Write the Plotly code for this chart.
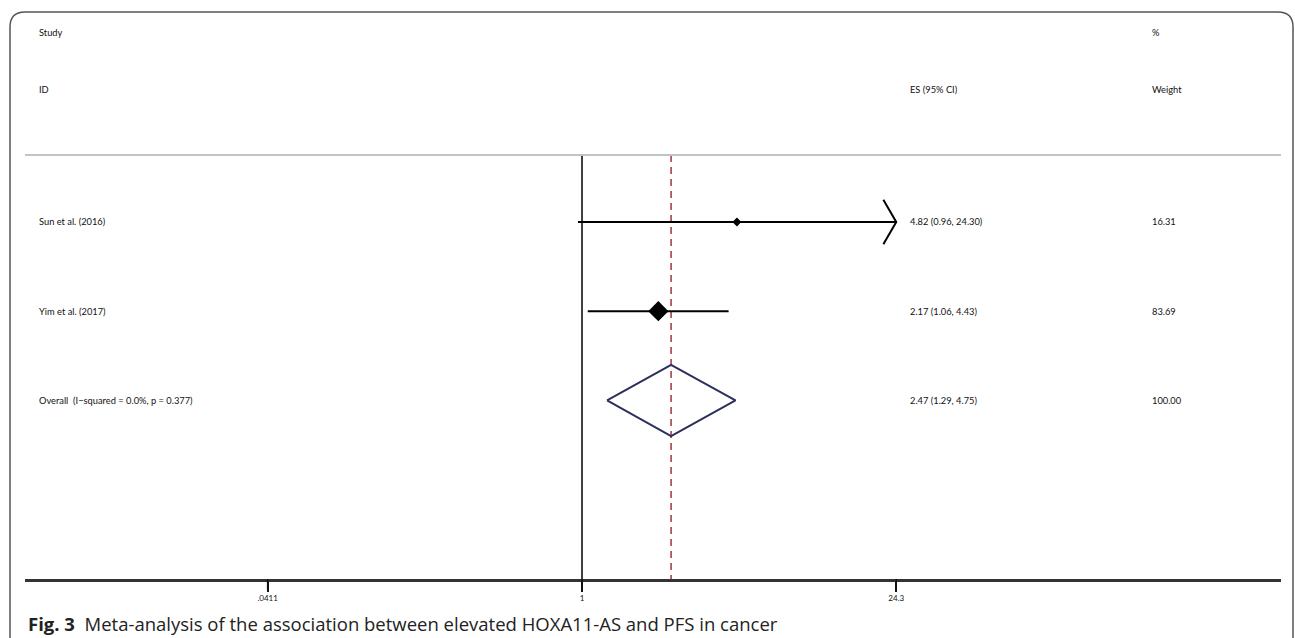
import plotly.graph_objects as go

# ---------------- data ----------------
studies = ["Sun et al. (2016)", "Yim et al. (2017)"]
es = [4.82, 2.17]
ci_low = [0.96, 1.06]
ci_high = [24.30, 4.43]
weights = [16.31, 83.69]

overall_label = "Overall  (I\u2212squared = 0.0%, p = 0.377)"
overall_es = 2.47
overall_low = 1.29
overall_high = 4.75
overall_weight = 100.00

axis_max = 24.3  # CI truncated at this value -> arrow
tick_vals = [0.0411, 1, 24.3]
tick_labels = [".0411", "1", "24.3"]

header_left = ["Study", "ID"]
header_es = "ES (95% CI)"
header_w = ["%", "Weight"]
caption_bold = "Fig. 3"
caption_text = "Meta-analysis of the association between elevated HOXA11-AS and PFS in cancer"

# ---------------- layout geometry (pixels) ----------------
W, H = 1295, 638
PL, PR = 25, 1281      # plot area x
PT, PB = 155, 579      # plot area y
FONT = "Lato"


def px(x):
    return x / W


def py(y):
    return 1 - y / H


rows = list(range(1, len(studies) + 1))
overall_row = len(studies) + 1
y_top, y_bot = 0.25, overall_row + 2

fig = go.Figure()

# null line at 1
fig.add_trace(go.Scatter(x=[1, 1], y=[y_top, y_bot], mode="lines",
                         line=dict(color="black", width=1.5), hoverinfo="skip"))
# dashed overall line
fig.add_trace(go.Scatter(x=[overall_es, overall_es], y=[y_top, y_bot], mode="lines",
                         line=dict(color="#a3363c", width=1.5, dash="7px,5px"),
                         hoverinfo="skip"))

for r, e, lo, hi, w in zip(rows, es, ci_low, ci_high, weights):
    hi_draw = min(hi, axis_max)
    fig.add_trace(go.Scatter(x=[lo, hi_draw], y=[r, r], mode="lines",
                             line=dict(color="black", width=2), hoverinfo="skip"))
    if hi >= axis_max:
        back = axis_max / 1.14
        fig.add_trace(go.Scatter(x=[back, axis_max, back], y=[r - 0.25, r, r + 0.25],
                                 mode="lines", line=dict(color="black", width=2),
                                 hoverinfo="skip"))
    fig.add_trace(go.Scatter(x=[e], y=[r], mode="markers",
                             marker=dict(symbol="diamond", color="black",
                                         size=1.7 * w ** 0.5, line=dict(width=0)),
                             hoverinfo="skip"))

# overall diamond
fig.add_trace(go.Scatter(
    x=[overall_low, overall_es, overall_high, overall_es, overall_low],
    y=[overall_row, overall_row - 0.4, overall_row, overall_row + 0.4, overall_row],
    mode="lines", line=dict(color="#2c2f5e", width=2), hoverinfo="skip"))

annotations = []
txt_font = dict(family=FONT, size=9.3, color="#111")


def add_text(x, y, text, yref="paper"):
    annotations.append(dict(x=x, y=y, xref="paper", yref=yref, text=text,
                            showarrow=False, xanchor="left", yanchor="middle",
                            font=txt_font))


add_text(px(37), py(32), header_left[0])
add_text(px(37), py(89), header_left[1])
add_text(px(908), py(89), header_es)
add_text(px(1150), py(32), header_w[0])
add_text(px(1150), py(89), header_w[1])

for r, s, e, lo, hi, w in zip(rows, studies, es, ci_low, ci_high, weights):
    add_text(px(37), r, s, yref="y")
    add_text(px(908), r, f"{e:.2f} ({lo:.2f}, {hi:.2f})", yref="y")
    add_text(px(1150), r, f"{w:.2f}", yref="y")
add_text(px(37), overall_row, overall_label, yref="y")
add_text(px(908), overall_row,
         f"{overall_es:.2f} ({overall_low:.2f}, {overall_high:.2f})", yref="y")
add_text(px(1150), overall_row, f"{overall_weight:.2f}", yref="y")

# caption
annotations.append(dict(x=px(26), y=py(623), xref="paper", yref="paper",
                        text=f"<b>{caption_bold}</b>  {caption_text}",
                        showarrow=False, xanchor="left", yanchor="middle",
                        font=dict(family="Open Sans", size=18.5, color="#222")))

shapes = [
    # header separator
    dict(type="line", xref="paper", yref="paper", x0=px(PL), x1=px(PR),
         y0=py(PT), y1=py(PT), line=dict(color="#c4c4c4", width=2)),
    # rounded frame
    dict(type="path", xref="paper", yref="paper",
         path=(f"M {px(10)},{py(660)} L {px(10)},{py(27)} "
               f"Q {px(10)},{py(12)} {px(25)},{py(12)} "
               f"L {px(1278)},{py(12)} Q {px(1293)},{py(12)} {px(1293)},{py(27)} "
               f"L {px(1293)},{py(660)}"),
         line=dict(color="#555", width=1.5)),
]
# explicit tick marks below the axis line, placed on the x scale
for tv in tick_vals:
    shapes.append(dict(type="line", xref="x", yref="paper", x0=tv, x1=tv,
                       y0=py(PB), y1=py(PB + 11),
                       line=dict(color="#111", width=1.5)))

fig.update_layout(
    width=W, height=H,
    margin=dict(l=0, r=0, t=0, b=0),
    paper_bgcolor="white", plot_bgcolor="white",
    showlegend=False,
    annotations=annotations, shapes=shapes,
    xaxis=dict(type="log", domain=[px(PL), px(PR)],
               range=[-2.456, 3.082],
               tickvals=tick_vals, ticktext=tick_labels,
               ticks="outside", ticklen=10, tickwidth=1.5, tickcolor="#111",
               showline=True, linecolor="#333", linewidth=2.5,
               showgrid=False, zeroline=False,
               tickfont=dict(family=FONT, size=8, color="#111")),
    yaxis=dict(domain=[py(PB), py(PT)], range=[y_bot, y_top],
               visible=False, showgrid=False, zeroline=False),
)

fig.write_html("out.html", config={"displayModeBar": False},
               post_script="document.body.style.margin='0';")
